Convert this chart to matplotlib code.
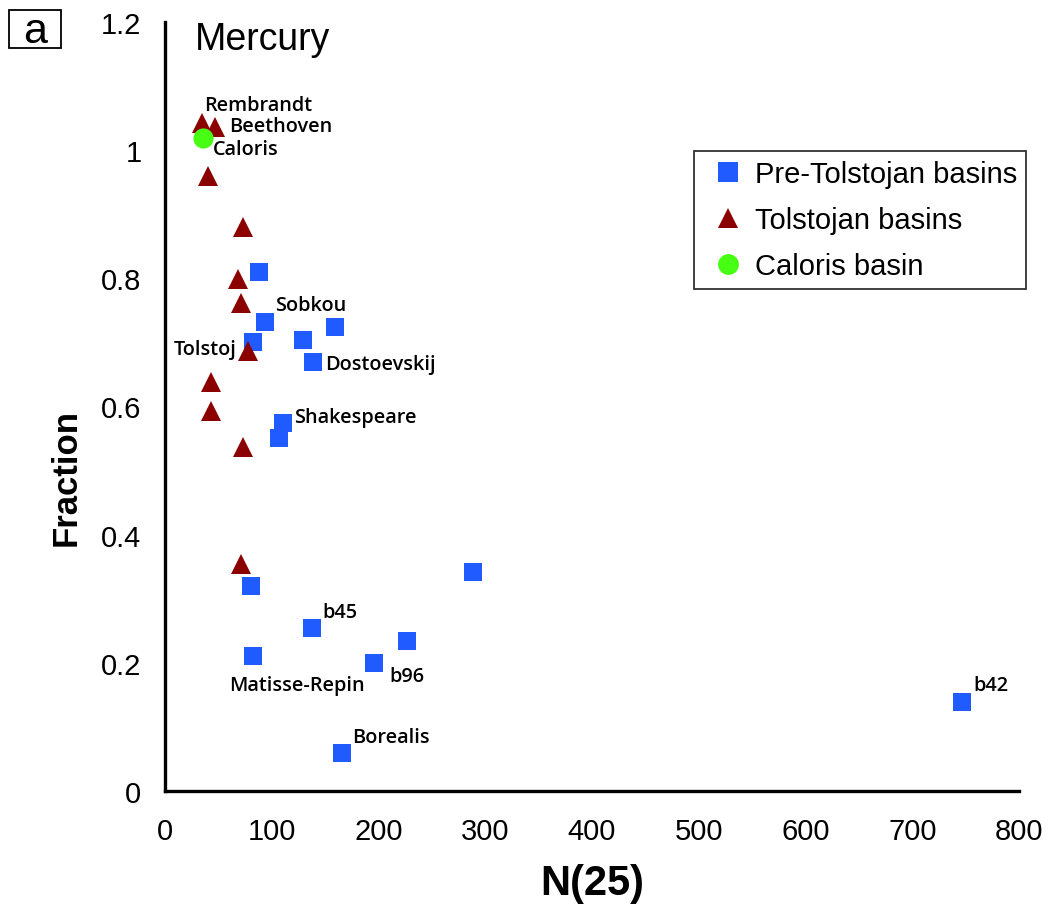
import matplotlib
matplotlib.use("Agg")
import matplotlib.pyplot as plt
from matplotlib.lines import Line2D
from matplotlib.patches import Rectangle
from matplotlib import font_manager

# ---- data -------------------------------------------------------------
pre_tolstojan_n25 = [88, 93.7, 159, 82.4, 129, 138.6, 110.5, 106.8,
                     80.6, 288.5, 137.7, 226.7, 82.4, 196, 165.8, 746.6]
pre_tolstojan_frac = [0.810, 0.732, 0.724, 0.700, 0.704, 0.669, 0.574, 0.551,
                      0.320, 0.342, 0.254, 0.234, 0.210, 0.200, 0.059, 0.139]
pre_tolstojan_names = ["", "Sobkou", "", "", "", "Dostoevskij", "Shakespeare", "",
                       "", "", "b45", "", "Matisse-Repin", "b96", "Borealis", "b42"]

tolstojan_n25 = [34.7, 46.8, 40.3, 73, 68.4, 71, 77.8, 43, 43, 73, 71.2]
tolstojan_frac = [1.042, 1.036, 0.959, 0.880, 0.799, 0.761, 0.686, 0.638,
                  0.593, 0.537, 0.354]
tolstojan_names = ["Rembrandt", "Beethoven", "", "", "", "", "Tolstoj", "", "", "", ""]

caloris_n25 = [35.6]
caloris_frac = [1.019]
caloris_names = ["Caloris"]

x_ticks = [0, 100, 200, 300, 400, 500, 600, 700, 800]
y_ticks = [0, 0.2, 0.4, 0.6, 0.8, 1.0, 1.2]
y_tick_labels = ["0", "0.2", "0.4", "0.6", "0.8", "1", "1.2"]

# ---- style ------------------------------------------------------------
BLUE = "#1f5bff"
DARKRED = "#8b0000"
GREEN = "#47ff12"

plt.rcParams["font.family"] = ["Liberation Sans", "DejaVu Sans"]

available = {f.name for f in font_manager.fontManager.ttflist}
narrow = "Liberation Sans Narrow" if "Liberation Sans Narrow" in available else "Liberation Sans"

fig = plt.figure(figsize=(10.54, 9.12), dpi=100)
ax = fig.add_axes([165 / 1054, 1 - 792 / 912, 854 / 1054, 769 / 912])

ms_sq = 13.0
ms_tri = 14.5
ms_circ = 14.5

ax.plot(pre_tolstojan_n25, pre_tolstojan_frac, linestyle="none", marker="s",
        markersize=ms_sq, color=BLUE, markeredgewidth=0, zorder=3)
ax.plot(tolstojan_n25, tolstojan_frac, linestyle="none", marker="^",
        markersize=ms_tri, color=DARKRED, markeredgewidth=0, zorder=4)
ax.plot(caloris_n25, caloris_frac, linestyle="none", marker="o",
        markersize=ms_circ, color=GREEN, markeredgewidth=0, zorder=5)

# label offsets in pixels (dx, dy) and horizontal alignment
label_offsets = {
    "Rembrandt": (2, 18, "left"),
    "Beethoven": (14, 1, "left"),
    "Caloris": (10, -11, "left"),
    "Sobkou": (10, 17, "left"),
    "Tolstoj": (-11, 2, "right"),
    "Dostoevskij": (12, -2, "left"),
    "Shakespeare": (11, 6, "left"),
    "b45": (10, 16, "left"),
    "b96": (15, -13, "left"),
    "Matisse-Repin": (-24, -29, "left"),
    "Borealis": (10, 16, "left"),
    "b42": (11, 17, "left"),
}

label_font = dict(family=["Open Sans", "DejaVu Sans"], fontsize=14.3, fontweight="semibold")
for xs, ys, names in [(pre_tolstojan_n25, pre_tolstojan_frac, pre_tolstojan_names),
                      (tolstojan_n25, tolstojan_frac, tolstojan_names),
                      (caloris_n25, caloris_frac, caloris_names)]:
    for xv, yv, name in zip(xs, ys, names):
        if not name:
            continue
        dx, dy, ha = label_offsets[name]
        ax.annotate(name, (xv, yv), xytext=(dx, dy), textcoords="offset pixels",
                    ha=ha, va="center", zorder=6, **label_font)

# ---- axes -------------------------------------------------------------
ax.set_xlim(0, 800)
ax.set_ylim(0, 1.2)
ax.set_xticks(x_ticks)
ax.set_xticklabels([str(t) for t in x_ticks])
ax.set_yticks(y_ticks)
ax.set_yticklabels(y_tick_labels)
ax.tick_params(axis="both", length=0, labelsize=21)
ax.tick_params(axis="x", pad=19)
ax.tick_params(axis="y", pad=17)

for side in ("top", "right"):
    ax.spines[side].set_visible(False)
for side in ("left", "bottom"):
    ax.spines[side].set_linewidth(2.4)
    ax.spines[side].set_color("black")

ax.set_ylabel("Fraction", fontsize=25, fontweight="bold")
ax.yaxis.label.set_verticalalignment("center")
ax.yaxis.set_label_coords((66 - 165) / 854, (792 - 478) / 769)
ax.set_xlabel("N(25)", fontsize=30, fontweight="bold", family=[narrow, "DejaVu Sans"])
ax.xaxis.label.set_verticalalignment("center")
ax.xaxis.set_label_coords((592 - 165) / 854, (792 - 884) / 769)

fig.text(195 / 1054, 1 - 40 / 912, "Mercury", fontsize=27, ha="left", va="center")

# panel tag
fig.add_artist(Rectangle((9 / 1054, 1 - 49 / 912), 52 / 1054, 38 / 912,
                         transform=fig.transFigure, facecolor="white",
                         edgecolor="black", linewidth=1.3))
fig.text(35 / 1054, 1 - 32 / 912, "a", fontsize=31, ha="center", va="center")

# ---- legend -----------------------------------------------------------
handles = [
    Line2D([], [], linestyle="none", marker="s", markersize=14, color=BLUE,
           markeredgewidth=0),
    Line2D([], [], linestyle="none", marker="^", markersize=15, color=DARKRED,
           markeredgewidth=0),
    Line2D([], [], linestyle="none", marker="o", markersize=15, color=GREEN,
           markeredgewidth=0),
]
leg = fig.legend(handles, ["Pre-Tolstojan basins", "Tolstojan basins", "Caloris basin"],
                 loc="upper left", bbox_to_anchor=(694 / 1054, 1 - 152 / 912),
                 fontsize=21, frameon=True, fancybox=False, borderpad=0.3,
                 handlelength=1.7, handletextpad=0.1, labelspacing=0.62,
                 borderaxespad=0)
leg.get_frame().set_edgecolor("black")
leg.get_frame().set_linewidth(1.3)

fig.savefig("out.png", dpi=100)
